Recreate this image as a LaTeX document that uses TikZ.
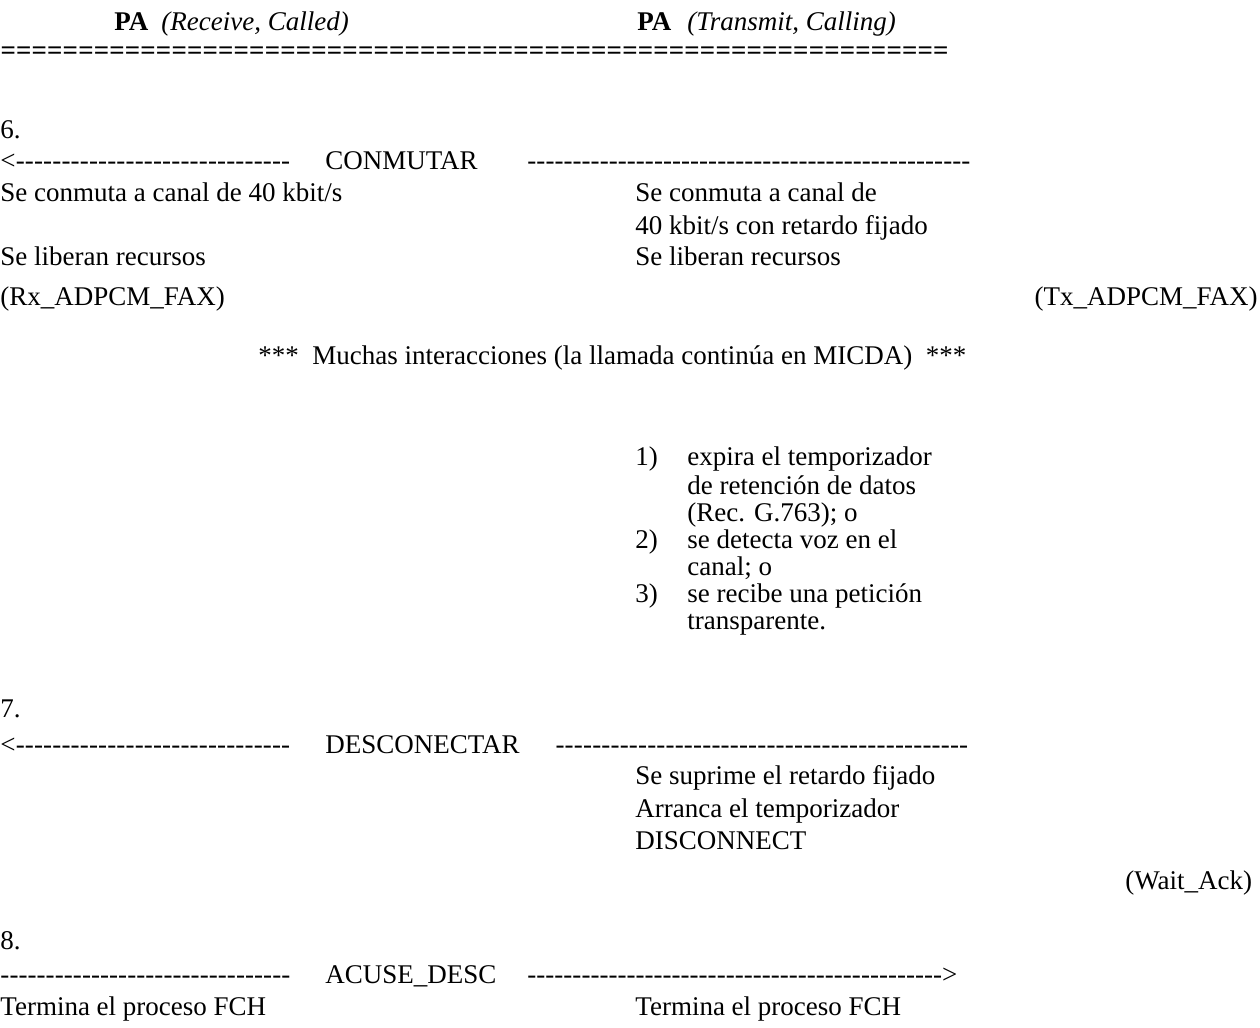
\documentclass[tikz,border=0pt]{standalone}
\usepackage{fontspec}
\setmainfont{Liberation Serif}
\usetikzlibrary{positioning}

% row of hyphens (or equals signs) of a fixed width
\newcommand{\dashrow}[3]{\makebox[#1][s]{#2\xleaders\hbox{-}\hfill#3}}
\newcommand{\eqrow}[1]{\makebox[#1][s]{\xleaders\hbox{=}\hfill}}

\begin{document}
\begin{tikzpicture}[
    x=0.5pt, y=-0.5pt,
    txt/.style={anchor=base west, inner sep=0pt,
                font=\fontsize{13.5}{15}\selectfont},
    rtxt/.style={txt, anchor=base east},
    hdr/.style={txt, font=\fontsize{13.5}{15}\selectfont\bfseries}
  ]
  \useasboundingbox (0,0) rectangle (1260,1028);

  % Header
  \node[hdr] (pa1) at (114,31) {PA};
  \node[txt] (role1) at (161,31) {\itshape(Receive, Called)};
  \node[hdr] (pa2) at (637,31) {PA};
  \node[txt] (role2) at (687,31) {\itshape(Transmit, Calling)};
  \node[hdr] (rule) at (0,60) {\eqrow{474pt}};

  % Step 6
  \node[txt] (s6) at (0,138) {6.};
  \node[txt] (a6l) at (0,169) {\dashrow{145pt}{<}{}};
  \node[txt] (m6) at (325,169) {CONMUTAR};
  \node[txt] (a6r) at (527,169) {\dashrow{221.5pt}{}{}};
  \node[txt] (l6a) at (0,201) {Se conmuta a canal de 40 kbit/s};
  \node[txt] (r6a) at (635,201) {Se conmuta a canal de};
  \node[txt] (r6b) at (635,234) {40 kbit/s con retardo fijado};
  \node[txt] (l6b) at (0,265) {Se liberan recursos};
  \node[txt] (r6c) at (635,265) {Se liberan recursos};
  \node[txt] (rxst) at (0,305) {(Rx\_ADPCM\_FAX)};
  \node[rtxt] (txst) at (1258,305) {(Tx\_ADPCM\_FAX)};

  \node[txt] (many) at (258,364)
    {***~~Muchas interacciones (la llamada continúa en MICDA)~~***};

  % Conditions
  \foreach \y/\n/\t in {465/1)/expira el temporizador,
                        494//de retención de datos,
                        521//(Rec. G.763); o,
                        548/2)/se detecta voz en el,
                        575//canal; o,
                        602/3)/se recibe una petición,
                        629//transparente.} {
    \node[txt] (n\y) at (635,\y) {\n};
    \node[txt] (c\y) at (687,\y) {\t};
  }

  % Step 7
  \node[txt] (s7) at (0,717) {7.};
  \node[txt] (a7l) at (0,753) {\dashrow{145pt}{<}{}};
  \node[txt] (m7) at (325,753) {DESCONECTAR};
  \node[txt] (a7r) at (555,753) {\dashrow{206.5pt}{}{}};
  \node[txt] (r7a) at (635,784) {Se suprime el retardo fijado};
  \node[txt] (r7b) at (635,817) {Arranca el temporizador};
  \node[txt] (r7c) at (635,849) {DISCONNECT};
  \node[txt] (wait) at (1125,889) {(Wait\_Ack)};

  % Step 8
  \node[txt] (s8) at (0,949) {8.};
  \node[txt] (a8l) at (0,983) {\dashrow{145pt}{}{}};
  \node[txt] (m8) at (325,983) {ACUSE\_DESC};
  \node[txt] (a8r) at (527,983) {\dashrow{215pt}{}{>}};
  \node[txt] (l8) at (0,1015) {Termina el proceso FCH};
  \node[txt] (r8) at (635,1015) {Termina el proceso FCH};
\end{tikzpicture}
\end{document}
